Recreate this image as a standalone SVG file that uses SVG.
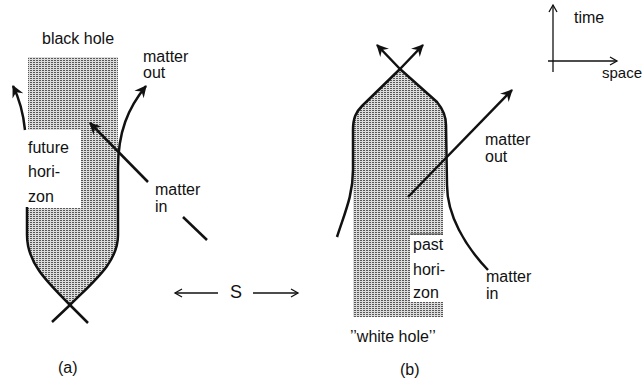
<svg xmlns="http://www.w3.org/2000/svg" width="642" height="383" viewBox="0 0 642 383">
<style>
  text { font-family: "Liberation Sans", Arial, sans-serif; font-size: 16px; fill: #111; }
  .heavy { fill: none; stroke: #111; stroke-width: 2.5; stroke-linejoin: round; }
  .thin { fill: none; stroke: #111; stroke-width: 1.3; }
  .shade { fill: url(#dots); }
</style>
<defs>
  <pattern id="dots" width="3" height="2" patternUnits="userSpaceOnUse">
    <rect width="3" height="2" fill="#dcdcdc"/>
    <rect width="2" height="1" fill="#585858"/>
  </pattern>
  <marker id="headHeavy" markerUnits="userSpaceOnUse" markerWidth="16" markerHeight="16" viewBox="-13 -8 16 16" refX="0" refY="0" orient="auto">
    <path d="M1,0 L-11,-6 L-7,0 L-11,6 Z" fill="#111"/>
  </marker>
  <marker id="headThin" markerUnits="userSpaceOnUse" markerWidth="12" markerHeight="12" viewBox="-10 -6 12 12" refX="0" refY="0" orient="auto">
    <path d="M-7,-4 L0,0 L-7,4" fill="none" stroke="#111" stroke-width="1.3"/>
  </marker>
</defs>
<rect width="642" height="383" fill="#fff"/>

<g id="black-hole-region">
  <path class="shade" d="M28,57 H118 V235 C118,262 96,280 70,305 C45,280 28,262 28,235 V208 H81 V130 H28 Z"/>
</g>

<g id="white-hole-region">
  <path class="shade" d="M400,70 L437,102 C442,108 445,115 445,125 L445,190 L443,200 V317 H353 V130 C353,118 356,113 362,107 Z"/>
  <rect x="410" y="235" width="35" height="67" fill="#fff"/>
  <line x1="410" y1="234" x2="443" y2="234" stroke="#444" stroke-width="1"/>
</g>

<g id="connectors">
  <!-- panel (a) -->
  <path class="heavy" d="M52,322 L70,305 C95,280 118,262 118,235 L118,168 C118,132 128,108 146,86" marker-end="url(#headHeavy)"/>
  <path class="heavy" d="M88,323 L70,305 C45,280 27,262 27,235 L27,207"/>
  <path class="heavy" d="M25,130 C23,111 19,98 13,86" marker-end="url(#headHeavy)"/>
  <path class="heavy" d="M148,182 L90,123" marker-end="url(#headHeavy)"/>
  <path class="heavy" d="M183,217 L207,240"/>
  <!-- separation S -->
  <path class="thin" d="M218,293 L175,293" marker-end="url(#headThin)"/>
  <path class="thin" d="M253,293 L298,293" marker-end="url(#headThin)"/>
  <!-- panel (b) -->
  <path class="heavy" d="M337,237 C345,212 353,195 353,170 L353,130 C353,118 356,112 362,106 L400,69 L423,45" marker-end="url(#headHeavy)"/>
  <path class="heavy" d="M488,270 C465,246 447,215 447,185 L446,125 C446,115 442,108 437,102 L400,69 L377,45" marker-end="url(#headHeavy)"/>
  <path class="heavy" d="M408,197 L512,90" marker-end="url(#headHeavy)"/>
  <!-- axes -->
  <path class="thin" d="M553,72 L553,5" marker-end="url(#headThin)"/>
  <path class="thin" d="M548,61 L617,61" marker-end="url(#headThin)"/>
</g>

<g id="labels-a">
  <text x="42" y="44">black hole</text>
  <text x="143" y="62">matter</text>
  <text x="143" y="78">out</text>
  <text x="28" y="153">future</text>
  <text x="28" y="177">hori-</text>
  <text x="28" y="202">zon</text>
  <text x="155" y="195">matter</text>
  <text x="155" y="212">in</text>
  <text x="58" y="373">(a)</text>
</g>
<g id="label-s">
  <text x="230" y="298" style="font-size:18px">S</text>
</g>
<g id="labels-b">
  <text x="485" y="145">matter</text>
  <text x="485" y="162">out</text>
  <text x="413" y="250">past</text>
  <text x="413" y="275">hori-</text>
  <text x="413" y="298">zon</text>
  <text x="486" y="282">matter</text>
  <text x="486" y="299">in</text>
  <text x="350" y="342">’’white hole’’</text>
  <text x="400" y="375">(b)</text>
</g>
<g id="axes-labels">
  <text x="574" y="23">time</text>
  <text x="602" y="78" style="font-size:15px">space</text>
</g>
</svg>
